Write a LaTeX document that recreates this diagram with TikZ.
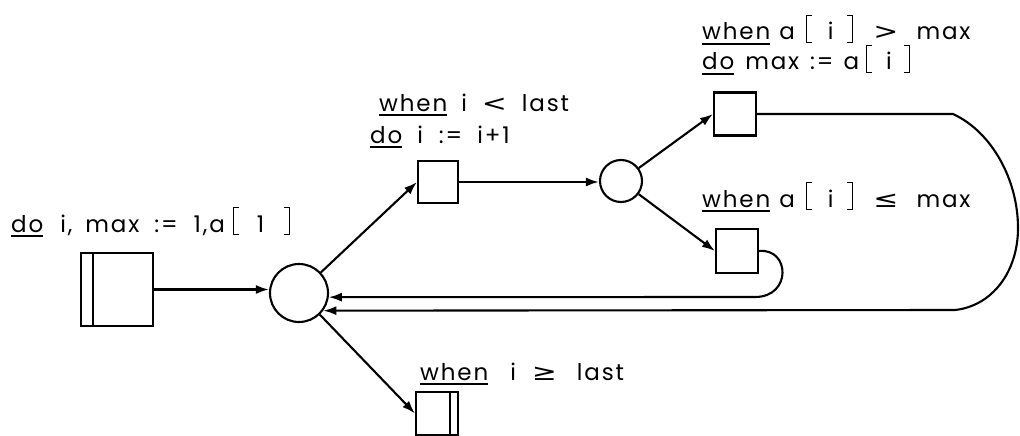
\documentclass[tikz,border=0pt]{standalone}
\usepackage{fontspec}
\setmainfont{Poppins}[LetterSpace=8]
\newfontfamily\symfont{DejaVu Sans}
\usetikzlibrary{arrows.meta}

% underlined keyword
\newcommand\kw[1]{\setbox0\hbox{#1}\rlap{\rule[-5pt]{\wd0}{1.8pt}}\box0\relax}
% tall thin brackets built from rules
\newcommand\lbr{\rule[-3pt]{1.1pt}{28pt}\kern-1.1pt\rule[-3pt]{6pt}{1.1pt}\kern-6pt\rule[23.9pt]{6pt}{1.1pt}}
\newcommand\rbr{\rule[-3pt]{6pt}{1.1pt}\kern-6pt\rule[23.9pt]{6pt}{1.1pt}\kern-1.1pt\rule[-3pt]{1.1pt}{28pt}}
% relation signs, set wide and light
\newcommand\sym[1]{\scalebox{1.3}[1]{\symfont #1}}
\newcommand\g[1]{\hspace*{#1pt}}

\tikzset{
  net/.style={line width=2.1pt},
  arr/.style={net, -{Latex[length=13pt,width=9pt]}},
  trans/.style={draw, net, rectangle, inner sep=0pt},
  place/.style={draw, net, circle, inner sep=0pt},
  lbl/.style={anchor=base west, inner sep=0pt, font=\fontsize{23}{30}\selectfont},
}

\begin{document}
\begin{tikzpicture}[x=1pt, y=-1pt]
\useasboundingbox (0,0) rectangle (1020,436);

% places
\node[place, minimum size=58pt] (c1) at (299,293) {};
\node[place, minimum size=42pt] (c2) at (621,181) {};

% transitions
\node[trans, minimum width=72pt, minimum height=73pt] (start) at (117,289.5) {};
\draw[net] (93,253) -- (93,326);
\node[trans, minimum width=40pt, minimum height=42pt] (b1) at (438,182) {};
\node[trans, minimum width=42pt, minimum height=43pt] (b2) at (735,114) {};
\node[trans, minimum width=42pt, minimum height=44pt] (b3) at (737,251) {};
\node[trans, minimum width=42pt, minimum height=43pt] (b4) at (437,413.5) {};
\draw[net] (450,392) -- (450,435);

% labels
\node[lbl] (t0) at (11,232) {\kw{do}\g{17}i,\g{13}max\g{15}:=\g{16}1,a\g{8}\lbr\g{18}1\g{20}\rbr};
\node[lbl] (t1) at (379,111) {\kw{when}\g{14}i\g{15}\sym{<}\g{15}last};
\node[lbl] (t2) at (370,143) {\kw{do}\g{15}i\g{16}:=\g{15}i+1};
\node[lbl] (t3) at (702,40) {\kw{when}\g{9}a\g{11}\lbr\g{16}i\g{14}\rbr\g{20}\sym{>}\g{18}max};
\node[lbl] (t4) at (702,70) {\kw{do}\g{11}max\g{11}:=\g{10}a\g{7}\lbr\g{14}i\g{12}\rbr};
\node[lbl] (t5) at (702,207) {\kw{when}\g{9}a\g{11}\lbr\g{16}i\g{14}\rbr\g{20}\sym{≤}\g{18}max};
\node[lbl] (t6) at (420,380) {\kw{when}\g{22}i\g{16}\sym{≥}\g{20}last};

% arcs
\draw[arr] (start.east) -- (start.east -| c1.west);
\draw[arr] (c1) -- (b1.west);
\draw[arr] (c1) -- (b4.west);
\draw[arr] (b1.east) -- (b1.east -| c2.west);
\draw[arr] (c2) -- (b2.west);
\draw[arr] (c2) -- (b3.west);
\draw[arr] (b3.east) .. controls (790,248) and (792,297) .. (755,297) -- (c1.-8);
\draw[arr] (b2.east) -- (953,114) .. controls (992,132) and (1018,180) .. (1018,228)
  .. controls (1018,272) and (992,306) .. (955,310) -- (c1.-36);
\end{tikzpicture}
\end{document}
